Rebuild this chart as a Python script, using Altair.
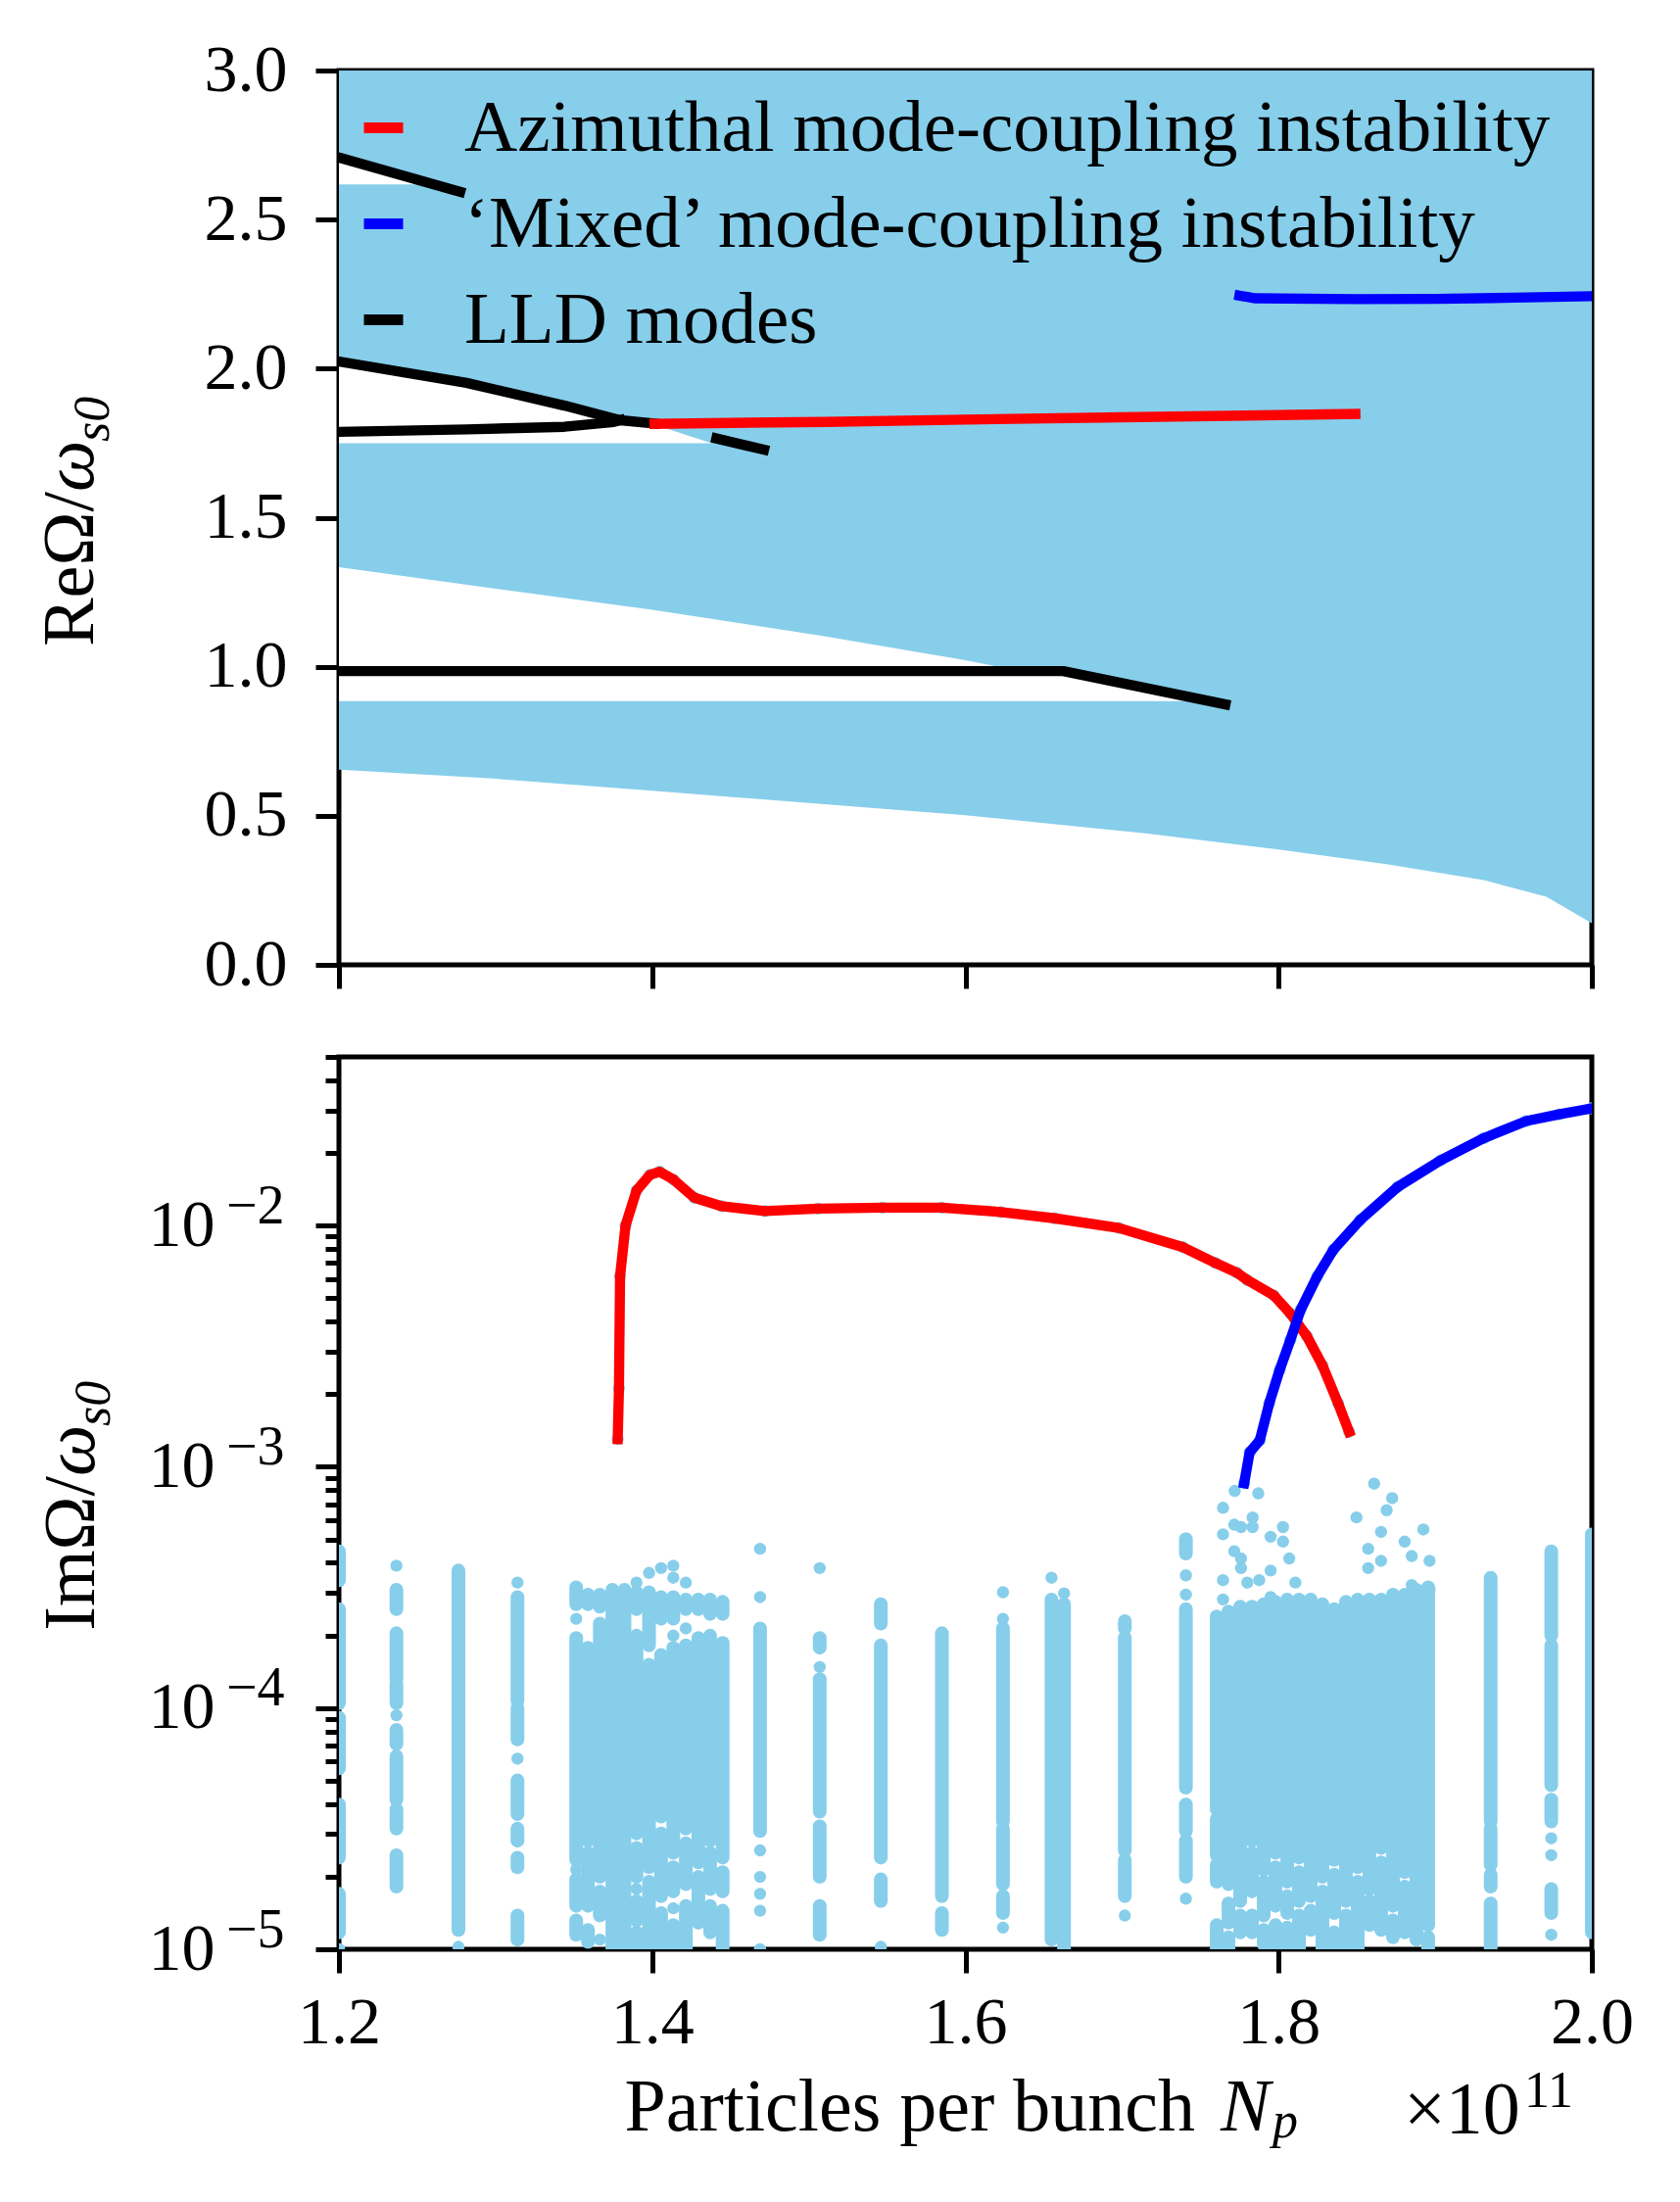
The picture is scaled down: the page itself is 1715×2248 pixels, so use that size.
import altair as alt
import pandas as pd

FONT = "Liberation Serif"
SKY = "#87CEEB"

# ---------------- Top panel: Re(Omega)/omega_s0 ----------------
# incoherent spectrum (sky-blue band): lower edge, upper edge at 3.0
band_n = [1.2, 1.301, 1.4, 1.508, 1.6, 1.715, 1.8, 1.87, 1.932, 1.971, 2.0]
band_lo = [0.655, 0.624, 0.584, 0.540, 0.502, 0.441, 0.387, 0.337, 0.283, 0.228, 0.140]
band_hi = [3.0, 3.0, 3.0, 3.0, 3.0, 3.0, 3.0, 3.0, 3.0, 3.0, 3.0]

# gaps of the spectrum (white)
gap1_n = [1.2, 1.3, 1.4, 1.508, 1.6, 1.63, 1.663, 1.70, 1.756]
gap1_lo = [0.885, 0.885, 0.885, 0.885, 0.885, 0.885, 0.885, 0.885, 0.885]
gap1_hi = [1.334, 1.262, 1.191, 1.104, 1.022, 0.990, 0.985, 0.946, 0.885]
gap2_n = [1.2, 1.2815, 1.344, 1.3796, 1.4015, 1.438]
gap2_lo = [1.75, 1.75, 1.75, 1.75, 1.75, 1.75]
gap2_hi = [2.024, 1.952, 1.876, 1.827, 1.812, 1.75]
gap3_n = [1.2, 1.2606]
gap3_lo = [2.618, 2.618]
gap3_hi = [2.708, 2.618]

# mode lines (real part)
azim_n = [1.4015, 1.45, 1.511, 1.6, 1.7, 1.8, 1.849]
azim_re = [1.815, 1.818, 1.821, 1.829, 1.837, 1.844, 1.848]
mixed_n = [1.775, 1.785, 1.85, 1.9, 1.95, 2.0]
mixed_re = [2.245, 2.236, 2.233, 2.234, 2.238, 2.243]
lld1_n = [1.2, 1.2774]
lld1_re = [2.708, 2.593]
lld2_n = [1.2, 1.2815, 1.344, 1.3796, 1.4015]
lld2_re = [2.024, 1.952, 1.876, 1.827, 1.816]
lld3_n = [1.2, 1.2815, 1.344, 1.3754, 1.3796]
lld3_re = [1.788, 1.796, 1.805, 1.821, 1.827]
lld4_n = [1.441, 1.4714]
lld4_re = [1.766, 1.728]
lld5_n = [1.2, 1.6625, 1.766]
lld5_re = [0.9855, 0.9855, 0.874]

# ---------------- Bottom panel: Im(Omega)/omega_s0 (log10 values) ----------------
azim_im_n = [1.378, 1.3788, 1.3795, 1.383, 1.390, 1.3986, 1.4048, 1.4137, 1.427, 1.4445,
             1.472, 1.506, 1.547, 1.585, 1.6226, 1.657, 1.698, 1.739, 1.7596, 1.7733,
             1.780, 1.797, 1.8075, 1.818, 1.828, 1.838, 1.845]
azim_im_log = [-2.885, -2.675, -2.21, -2.0, -1.855, -1.79, -1.777, -1.81, -1.885, -1.92,
               -1.94, -1.93, -1.926, -1.926, -1.944, -1.97, -2.01, -2.09, -2.155, -2.195,
               -2.226, -2.29, -2.365, -2.458, -2.58, -2.737, -2.855]
mixed_im_n = [1.778, 1.7815, 1.788, 1.794, 1.8007, 1.8075, 1.814, 1.8247, 1.835, 1.852,
              1.876, 1.9034, 1.931, 1.958, 1.979, 2.0]
mixed_im_log = [-3.068, -2.94, -2.89, -2.737, -2.598, -2.474, -2.35, -2.21, -2.10, -1.978,
                -1.84, -1.73, -1.638, -1.567, -1.539, -1.514]

# columns of incoherent eigenvalues: (N, log10 top, log10 bottom) runs of touching dots
segs_sparse = [
    (1.2, -3.35, -3.47), (1.2, -3.59, -3.98), (1.2, -4.04, -4.25), (1.2, -4.40, -4.62), (1.2, -4.77, -4.93),
    (1.2367, -3.51, -3.59), (1.2367, -3.69, -3.88), (1.2367, -3.90, -3.98), (1.2367, -4.09, -4.15),
    (1.2367, -4.20, -4.38), (1.2367, -4.42, -4.50), (1.2367, -4.61, -4.74),
    (1.2763, -3.43, -4.92),
    (1.314, -3.54, -3.97), (1.314, -4.00, -4.13), (1.314, -4.30, -4.44), (1.314, -4.50, -4.55),
    (1.314, -4.62, -4.66), (1.314, -4.86, -4.96),
    (1.4689, -3.67, -4.51),
    (1.507, -3.71, -3.75), (1.507, -3.88, -4.43), (1.507, -4.49, -4.70), (1.507, -4.82, -4.94),
    (1.546, -3.57, -3.65), (1.546, -3.74, -4.62), (1.546, -4.71, -4.80),
    (1.585, -3.69, -4.78), (1.585, -4.85, -4.92),
    (1.624, -3.67, -4.47), (1.624, -4.50, -4.73), (1.624, -4.78, -4.85),
    (1.655, -3.55, -4.96), (1.663, -3.57, -5.0),
    (1.7018, -3.64, -3.67), (1.7018, -3.71, -4.59), (1.7018, -4.63, -4.78),
    (1.7408, -3.30, -3.36), (1.7408, -3.59, -4.33), (1.7408, -4.40, -4.51), (1.7408, -4.55, -4.70),
    (1.9354, -3.46, -4.47), (1.9354, -4.50, -4.65), (1.9354, -4.69, -4.74), (1.9354, -4.81, -5.0),
    (1.9741, -3.35, -3.70), (1.9741, -3.74, -4.32), (1.9741, -4.38, -4.47), (1.9741, -4.75, -4.85),
    (2.0, -3.28, -4.93),
]
segs_block1 = [
    (1.3515, -3.50, -3.57), (1.3515, -3.71, -4.63), (1.3515, -4.71, -4.82), (1.3515, -4.88, -4.94),
    (1.3590, -3.53, -3.57), (1.3590, -3.75, -4.55), (1.3590, -4.60, -4.82), (1.3590, -4.92, -4.97),
    (1.3666, -3.53, -3.58), (1.3666, -3.65, -4.70), (1.3666, -4.76, -4.86),
    (1.3746, -3.51, -5.0),
    (1.3823, -3.51, -5.0),
    (1.3900, -3.52, -3.59), (1.3900, -3.70, -4.52), (1.3900, -4.58, -4.70), (1.3900, -4.80, -4.88), (1.3900, -4.93, -5.0),
    (1.3980, -3.52, -3.74), (1.3980, -3.82, -4.66), (1.3980, -4.72, -5.0),
    (1.4057, -3.54, -3.63), (1.4057, -3.78, -4.45), (1.4057, -4.52, -4.78), (1.4057, -4.85, -5.0),
    (1.4135, -3.54, -3.63), (1.4135, -3.75, -4.60), (1.4135, -4.66, -4.76), (1.4135, -4.90, -5.0),
    (1.4215, -3.55, -3.59), (1.4215, -3.74, -4.50), (1.4215, -4.56, -4.73), (1.4215, -4.82, -5.0),
    (1.4295, -3.55, -3.59), (1.4295, -3.71, -4.64), (1.4295, -4.70, -4.89),
    (1.4370, -3.55, -3.61), (1.4370, -3.70, -4.55), (1.4370, -4.60, -4.75), (1.4370, -4.82, -4.93),
    (1.4450, -3.56, -3.61), (1.4450, -3.73, -4.62), (1.4450, -4.68, -4.76), (1.4450, -4.84, -5.0),
]
segs_block2 = [
    (1.7605, -3.62, -4.42), (1.7605, -4.46, -4.61), (1.7605, -4.65, -4.72), (1.7605, -4.90, -5.0),
    (1.7680, -3.60, -4.73), (1.7680, -4.81, -4.89), (1.7680, -4.95, -5.0),
    (1.7755, -3.58, -4.80), (1.7755, -4.86, -4.93),
    (1.7830, -3.58, -4.55), (1.7830, -4.60, -4.76), (1.7830, -4.86, -4.93),
    (1.7905, -3.57, -4.67), (1.7905, -4.72, -4.86), (1.7905, -4.92, -4.98),
    (1.7980, -3.56, -4.60), (1.7980, -4.66, -4.82), (1.7980, -4.90, -5.0),
    (1.8055, -3.55, -4.72), (1.8055, -4.78, -4.85), (1.8055, -4.91, -5.0),
    (1.8130, -3.55, -4.62), (1.8130, -4.68, -4.80), (1.8130, -4.86, -5.0),
    (1.8205, -3.55, -4.78), (1.8205, -4.84, -4.92),
    (1.8280, -3.57, -4.35), (1.8280, -4.38, -4.70), (1.8280, -4.76, -5.0),
    (1.8355, -3.59, -4.63), (1.8355, -4.69, -4.85), (1.8355, -4.93, -5.0),
    (1.8430, -3.56, -4.80), (1.8430, -4.86, -5.0),
    (1.8505, -3.55, -4.66), (1.8505, -4.72, -5.0),
    (1.8580, -3.55, -4.75), (1.8580, -4.80, -4.90),
    (1.8655, -3.55, -4.58), (1.8655, -4.64, -4.92),
    (1.8730, -3.53, -4.82), (1.8730, -4.88, -4.95),
    (1.8805, -3.53, -4.68), (1.8805, -4.74, -4.93),
    (1.8880, -3.51, -4.96),
    (1.8955, -3.50, -4.90), (1.8955, -4.95, -5.0),
]
# isolated eigenvalue dots: (N, log10 Im)
pts_sparse = [
    (1.2, -5.0), (1.2367, -3.41), (1.2367, -4.03), (1.2763, -4.99), (1.314, -3.48), (1.314, -4.21),
    (1.4689, -3.34), (1.4689, -3.54), (1.4689, -4.59), (1.4689, -4.70), (1.4689, -4.77), (1.4689, -4.84),
    (1.4689, -5.0), (1.507, -3.42), (1.507, -3.83), (1.546, -4.99), (1.624, -3.52), (1.624, -3.63),
    (1.624, -4.91), (1.655, -3.46), (1.663, -3.525), (1.7018, -4.86), (1.7408, -3.45), (1.7408, -3.53),
    (1.7408, -4.79), (1.9741, -4.54), (1.9741, -4.61), (1.9741, -4.94),
]
pts_block1 = [
    (1.3515, -3.63), (1.3515, -4.67), (1.3666, -4.96), (1.3900, -3.48), (1.3900, -4.75), (1.3980, -3.44),
    (1.4057, -3.42), (1.4135, -3.41), (1.4135, -3.46), (1.4135, -3.70), (1.4135, -4.83), (1.4215, -3.48),
    (1.4215, -3.67),
]
pts_block2 = [
    (1.772, -3.10), (1.787, -3.11), (1.7645, -3.17), (1.7717, -3.24), (1.776, -3.25), (1.7834, -3.21),
    (1.7834, -3.25), (1.7645, -3.28), (1.7949, -3.29), (1.8028, -3.25), (1.8028, -3.31), (1.7717, -3.35),
    (1.776, -3.38), (1.776, -3.42), (1.8068, -3.38), (1.7949, -3.43), (1.7876, -3.47), (1.7645, -3.47),
    (1.7645, -3.55), (1.780, -3.48), (1.7949, -3.54), (1.8107, -3.48), (1.861, -3.07), (1.8725, -3.13),
    (1.869, -3.18), (1.8497, -3.21), (1.8654, -3.27), (1.8924, -3.26), (1.8805, -3.31), (1.8572, -3.34),
    (1.885, -3.37), (1.8964, -3.39), (1.8654, -3.39), (1.8572, -3.42), (1.885, -3.49), (1.8964, -3.51),
]

AZ = "Azimuthal mode-coupling instability"
MX = "\u2018Mixed\u2019 mode-coupling instability"
LL = "LLD modes"

N_TICKS = [1.2, 1.4, 1.6, 1.8, 2.0]
RE_TICKS = [0.0, 0.5, 1.0, 1.5, 2.0, 2.5, 3.0]
IM_MAJOR = [1e-5, 1e-4, 1e-3, 1e-2]
IM_MINOR = [m * d for d in [1e-5, 1e-4, 1e-3, 1e-2] for m in range(2, 10) if m * d <= 0.05 + 1e-12]

W, H1, H2 = 1279, 913, 911

# ---------------- build tables ----------------
band_df = pd.DataFrame({"n": band_n, "lo": band_lo, "hi": band_hi})
gap_rows = []
for gid, (gn, glo, ghi) in enumerate([(gap1_n, gap1_lo, gap1_hi), (gap2_n, gap2_lo, gap2_hi),
                                      (gap3_n, gap3_lo, gap3_hi)]):
    for a, b, c in zip(gn, glo, ghi):
        gap_rows.append({"n": a, "lo": b, "hi": c, "gap": gid})
gap_df = pd.DataFrame(gap_rows)

line_rows = []
for seg, (series, xs_, ys_) in enumerate([
        (LL, lld1_n, lld1_re), (LL, lld2_n, lld2_re), (LL, lld3_n, lld3_re),
        (LL, lld4_n, lld4_re), (LL, lld5_n, lld5_re),
        (AZ, azim_n, azim_re), (MX, mixed_n, mixed_re)]):
    for a, b in zip(xs_, ys_):
        line_rows.append({"n": a, "re": b, "series": series, "seg": seg})
line_df = pd.DataFrame(line_rows)

seg_df = pd.DataFrame([{"n": n, "lo": 10 ** a, "hi": 10 ** b}
                       for (n, a, b) in segs_sparse + segs_block1 + segs_block2])
pts_df = pd.DataFrame([{"n": n, "im": 10 ** a} for (n, a) in pts_sparse + pts_block1 + pts_block2])
azim_df = pd.DataFrame({"n": azim_im_n, "im": [10 ** v for v in azim_im_log]})
mixed_df = pd.DataFrame({"n": mixed_im_n, "im": [10 ** v for v in mixed_im_log]})
curve_dots_df = pd.concat([azim_df, mixed_df], ignore_index=True)

# ---------------- helpers ----------------
xscale = alt.Scale(domain=[1.2, 2.0], nice=False, zero=False)
re_scale = alt.Scale(domain=[0, 3], nice=False, zero=False)
im_scale = alt.Scale(type="log", domain=[1e-5, 0.05], nice=False)


def label(text, x, y, size=74, style="normal", align="left", angle=0):
    return alt.Chart(pd.DataFrame({"t": [text]})).mark_text(
        font=FONT, fontSize=size, fontStyle=style, align=align, baseline="alphabetic",
        angle=angle, color="black"
    ).encode(x=alt.value(x), y=alt.value(y), text="t:N")


# ---------------- top chart ----------------
top_band = alt.Chart(band_df).mark_area(color=SKY, opacity=1).encode(
    x=alt.X("n:Q", scale=xscale, title=None,
            axis=alt.Axis(values=N_TICKS, labels=False, tickSize=24, domain=False)),
    y=alt.Y("lo:Q", scale=re_scale, title=None,
            axis=alt.Axis(values=RE_TICKS, format=".1f", tickSize=24, labelPadding=29, domain=False)),
    y2="hi:Q",
)
top_gaps = alt.Chart(gap_df).mark_area(color="white", opacity=1).encode(
    x=alt.X("n:Q", scale=xscale, title=None),
    y=alt.Y("lo:Q", scale=re_scale, title=None),
    y2="hi:Q",
    detail="gap:N",
)
top_lines = alt.Chart(line_df).mark_line(strokeWidth=10.4, strokeCap="square", strokeJoin="round",
                                         clip=True).encode(
    x=alt.X("n:Q", scale=xscale, title=None),
    y=alt.Y("re:Q", scale=re_scale, title=None),
    color=alt.Color("series:N",
                    scale=alt.Scale(domain=[AZ, MX, LL], range=["#ff0000", "#0000ff", "#000000"]),
                    legend=alt.Legend(title=None, orient="none", legendX=8, legendY=21,
                                      symbolType="stroke", symbolSize=1600, symbolStrokeWidth=11,
                                      labelFont=FONT, labelFontSize=75, labelLimit=0,
                                      labelOffset=45, rowPadding=22, padding=0, symbolOffset=0,
                                      labelColor="black")),
    detail="seg:N",
)
top_title = [
    label("Re\u03a9/", -251, 430, angle=270, align="right"),
    label("\u03c9", -251, 430, style="italic", angle=270),
    label("s0", -235, 379, size=52, style="italic", angle=270),
]
top = alt.layer(top_band, top_gaps, top_lines, *top_title).properties(width=W, height=H1)

# ---------------- bottom chart ----------------
bot_segs = alt.Chart(seg_df).mark_rule(color=SKY, strokeWidth=14, strokeCap="round", clip=True).encode(
    x=alt.X("n:Q", scale=xscale, title=None,
            axis=alt.Axis(values=N_TICKS, format=".1f", tickSize=24, labelPadding=17, domain=False,
                          labelFlush=False)),
    y=alt.Y("lo:Q", scale=im_scale, title=None,
            axis=alt.Axis(values=IM_MAJOR, labelExpr="'10'", tickSize=24, labelPadding=103,
                          domain=False, orient="left")),
    y2="hi:Q",
)
bot_pts = alt.Chart(pts_df).mark_circle(color=SKY, size=154, opacity=1, clip=True).encode(
    x=alt.X("n:Q", scale=xscale, title=None),
    y=alt.Y("im:Q", scale=im_scale, title=None,
            axis=alt.Axis(values=IM_MINOR, labels=False, tickSize=14, domain=False, orient="left")),
)
bot_dots = alt.Chart(curve_dots_df).mark_circle(color=SKY, size=154, opacity=1, clip=True).encode(
    x=alt.X("n:Q", scale=xscale, title=None),
    y=alt.Y("im:Q", scale=im_scale, title=None,
            axis=alt.Axis(values=IM_MAJOR, ticks=False, tickSize=0, domain=False, orient="left",
                          labelFontSize=56, labelPadding=56, labelOffset=-20,
                          labelExpr="datum.value < 0.00002 ? '\u22125' : datum.value < 0.0002 ? '\u22124' : datum.value < 0.002 ? '\u22123' : '\u22122'")),
)
bot_red = alt.Chart(azim_df).mark_line(color="#ff0000", strokeWidth=10.4, strokeCap="square",
                                       strokeJoin="round", clip=True).encode(
    x=alt.X("n:Q", scale=xscale, title=None),
    y=alt.Y("im:Q", scale=im_scale, title=None, axis=None),
)
bot_blue = alt.Chart(mixed_df).mark_line(color="#0000ff", strokeWidth=10.4, strokeCap="square",
                                         strokeJoin="round", clip=True).encode(
    x=alt.X("n:Q", scale=xscale, title=None),
    y=alt.Y("im:Q", scale=im_scale, title=None, axis=None),
)
bot_text = [
    label("Im\u03a9/", -250, 428, angle=270, align="right"),
    label("\u03c9", -250, 428, style="italic", angle=270),
    label("s0", -234, 377, size=52, style="italic", angle=270),
    label("Particles per bunch", 874, 1096, size=76, align="right"),
    label("N", 900, 1096, size=76, style="italic"),
    label("p", 953, 1103, size=52, style="italic"),
    label("\u00d710", 1087, 1099, size=76),
    label("11", 1210, 1072, size=52),
]
bottom = alt.layer(bot_segs, bot_pts, bot_dots, bot_red, bot_blue, *bot_text).resolve_axis(
    y="independent").properties(width=W, height=H2)

chart = alt.vconcat(top, bottom, spacing=52).resolve_scale(color="independent").resolve_legend(
    color="independent").properties(
    padding={"left": 25, "top": 27, "right": 10, "bottom": 10}, background="white"
).configure_view(stroke="black", strokeWidth=5).configure_axis(
    labelFont=FONT, labelFontSize=68, labelColor="black", tickColor="black", tickWidth=5,
    grid=False, domainColor="black"
)

chart.save("out.html", embed_options={"renderer": "svg", "actions": False})
